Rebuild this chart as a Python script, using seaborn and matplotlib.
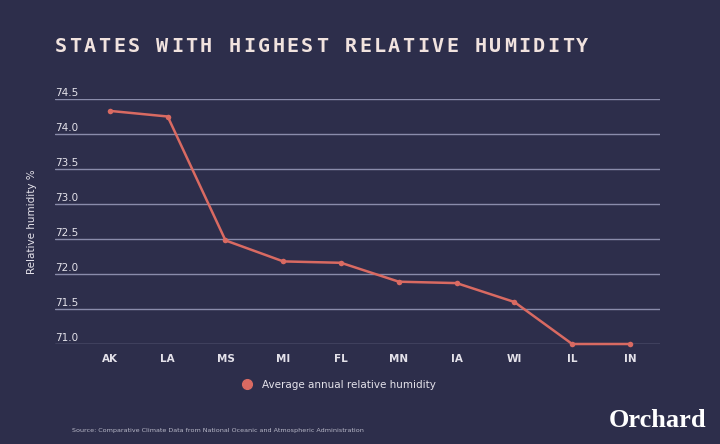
import matplotlib
matplotlib.use("Agg")
import matplotlib.pyplot as plt
import seaborn as sns
import pandas as pd
from matplotlib.lines import Line2D
import matplotlib.transforms as mtransforms

states = ["AK", "LA", "MS", "MI", "FL", "MN", "IA", "WI", "IL", "IN"]
humidity = [74.33, 74.25, 72.48, 72.18, 72.16, 71.89, 71.87, 71.60, 71.0, 71.0]
y_ticks = [71.0, 71.5, 72.0, 72.5, 73.0, 73.5, 74.0, 74.5]
y_tick_labels = ["71.0", "71.5", "72.0", "72.5", "73.0", "73.5", "74.0", "74.5"]
title = "STATES WITH HIGHEST RELATIVE HUMIDITY"

BG = "#2d2e4b"
LINE = "#d96a62"
GRID = "#8a8cab"
TXT = "#e4e2ea"

df = pd.DataFrame({"state": states, "humidity": humidity})
df["pos"] = range(len(states))

sns.set_theme(style="dark")
plt.rcParams["font.family"] = ["DejaVu Sans"]

fig = plt.figure(figsize=(7.2, 4.44), dpi=100, facecolor=BG)
ax = fig.add_axes([55/720, 1-344/444, (660-55)/720, (344-99)/444])
ax.set_facecolor(BG)

sns.lineplot(data=df, x="pos", y="humidity", ax=ax, color=LINE, linewidth=1.8,
             marker="o", markersize=4, markeredgewidth=0, clip_on=False, zorder=3)

ax.set_ylim(71.0, 74.5)
ax.set_xlim(-0.95, 9.52)
ax.set_yticks(y_ticks)
ax.set_yticklabels(y_tick_labels)
ax.set_xticks(df["pos"])
ax.set_xticklabels(states)
ax.grid(False)
for yv in y_ticks:
    ax.axhline(yv, color=GRID, linewidth=1.0, zorder=1)
for s in ax.spines.values():
    s.set_visible(False)

ax.tick_params(axis="y", length=0, pad=0, labelsize=7.5, labelcolor=TXT)
ax.tick_params(axis="x", length=0, pad=7, labelsize=7.5, labelcolor=TXT)
offset = mtransforms.ScaledTranslation(0, 1/72, fig.dpi_scale_trans)
for lab in ax.get_yticklabels():
    lab.set_horizontalalignment("left")
    lab.set_verticalalignment("bottom")
    lab.set_transform(lab.get_transform() + offset)
for lab in ax.get_xticklabels():
    lab.set_fontweight("bold")

ax.set_xlabel("")
ax.set_ylabel("Relative humidity %", color=TXT, fontsize=7.5)
ax.yaxis.set_label_coords(-0.03, 0.5)

# letter-spaced title (monospaced font, fixed step)
step = 14.48
for i, ch in enumerate(title):
    fig.text((55 + i*step)/720, 1-47/444, ch, color="#f1e3df",
             fontsize=14.5, fontweight="bold", family="DejaVu Sans Mono",
             va="center", ha="left")

handle = Line2D([], [], color=LINE, marker="o", linestyle="none", markersize=7)
fig.legend([handle], ["Average annual relative humidity"], loc="center",
           bbox_to_anchor=(336/720, 1-385/444), frameon=False, fontsize=7.5,
           labelcolor=TXT, handletextpad=0.4)

fig.text(72/720, 1-430/444,
         "Source: Comparative Climate Data from National Oceanic and Atmospheric Administration",
         color="#b8b8c8", fontsize=4.6, va="center", ha="left")
fig.text(706/720, 1-420/444, "Orchard", color="white", fontsize=19, fontweight="bold",
         family="Liberation Serif", va="center", ha="right")

fig.savefig("out.png", dpi=100, facecolor=BG)
